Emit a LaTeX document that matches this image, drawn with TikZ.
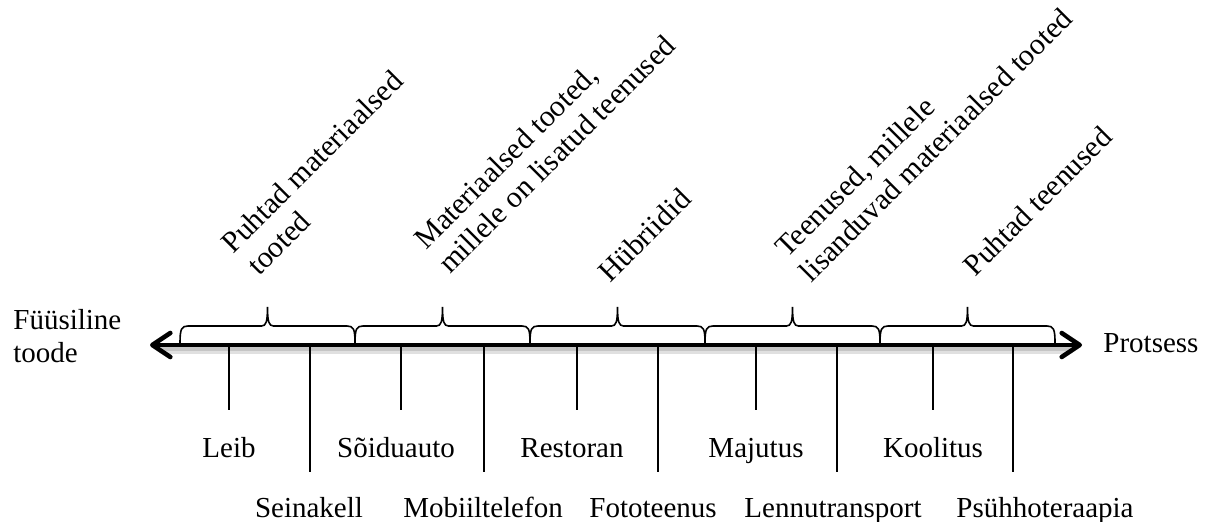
\documentclass[tikz,border=0pt]{standalone}
\usepackage{fontspec}
\setmainfont{Liberation Serif}
\usetikzlibrary{arrows.meta}
\begin{document}
\begin{tikzpicture}[x=0.5pt,y=-0.5pt,
  lbl/.style={font=\fontsize{14.5}{17}\selectfont, inner sep=0pt},
  diag/.style={font=\fontsize{15}{17}\selectfont, inner sep=0pt, rotate=45, anchor=base west},
  tickline/.style={line width=1pt, black},
  bracepath/.style={line width=0.8pt, black},
  axisline/.style={line width=2.3pt, {Straight Barb[length=9pt,width=12pt,line cap=round,line join=round]}-{Straight Barb[length=9pt,width=12pt,line cap=round,line join=round]}},
  shadowline/.style={line width=#1, black, opacity=0.12, line cap=round}
]
\useasboundingbox (0,0) rectangle (1218,522);

% axis end points
\coordinate (L) at (150,345);
\coordinate (R) at (1082,345);

% soft shadow
\draw[shadowline=4pt] ([xshift=6pt,yshift=-2.5pt]L) -- ([xshift=-6pt,yshift=-2.5pt]R);
\draw[shadowline=2.5pt] ([xshift=6pt,yshift=-2pt]L) -- ([xshift=-6pt,yshift=-2pt]R);

% braces
\foreach \a/\b in {180/355, 355/530, 530/705, 705/880, 880/1055}{
  \pgfmathsetmacro{\m}{(\a+\b)/2}
  \draw[bracepath] (\a,343) .. controls (\a,329) and (\a+1.5,326) .. (\a+8,326)
     -- (\m-6,326) .. controls (\m-1.5,326) and (\m,322) .. (\m,307)
     .. controls (\m,322) and (\m+1.5,326) .. (\m+6,326)
     -- (\b-8,326) .. controls (\b-1.5,326) and (\b,329) .. (\b,343);
}

% main axis
\draw[axisline] (L) -- (R);

% ticks
\foreach \x/\n in {229/s1, 401/s2, 577/s3, 756/s4, 933/s5}{
  \coordinate (\n) at (\x,347);
  \draw[tickline] (\n) -- ++(0,63);
}
\foreach \x/\n in {310/l1, 484/l2, 658/l3, 837/l4, 1013/l5}{
  \coordinate (\n) at (\x,347);
  \draw[tickline] (\n) -- ++(0,125);
}

% end labels
\node[lbl, anchor=base west] (fys1) at (13,330) {Füüsiline};
\node[lbl, anchor=base west] (fys2) at (13,363) {toode};
\node[lbl, anchor=base west] (prot) at (1103,353) {Protsess};

% short labels
\node[lbl, anchor=base] (leib) at (229,458) {Leib};
\node[lbl, anchor=base] (soid) at (396,458) {Sõiduauto};
\node[lbl, anchor=base] (rest) at (572,458) {Restoran};
\node[lbl, anchor=base] (maju) at (756,458) {Majutus};
\node[lbl, anchor=base] (kool) at (933,458) {Koolitus};

% long labels
\node[lbl, anchor=base] (sein) at (309,517) {Seinakell};
\node[lbl, anchor=base] (mobi) at (483,517) {Mobiiltelefon};
\node[lbl, anchor=base] (foto) at (653,517) {Fototeenus};
\node[lbl, anchor=base] (lenn) at (833,517) {Lennutransport};
\node[lbl, anchor=base] (psyh) at (1045,517) {Psühhoteraapia};

% diagonal category labels
\node[diag] (c1a) at (233,255) {Puhtad materiaalsed};
\node[diag] (c1b) at (259,277) {tooted};
\node[diag] (c2a) at (426,251) {Materiaalsed tooted,};
\node[diag] (c2b) at (450,275) {millele on lisatud teenused};
\node[diag] (c3)  at (610,284) {Hübriidid};
\node[diag] (c4a) at (787,259) {Teenused, millele};
\node[diag] (c4b) at (811,284) {lisanduvad materiaalsed tooted};
\node[diag] (c5)  at (975,278) {Puhtad teenused};
\end{tikzpicture}
\end{document}
